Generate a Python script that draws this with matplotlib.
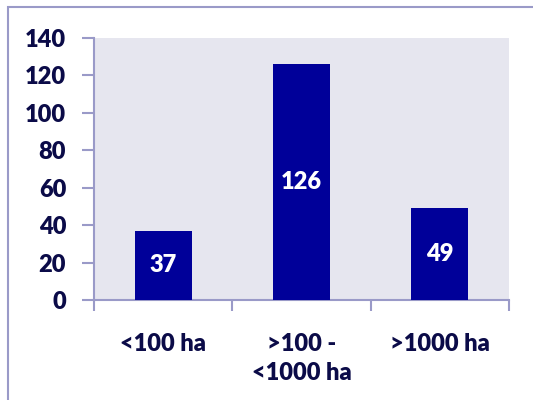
import matplotlib
matplotlib.use("Agg")
import matplotlib.pyplot as plt
from matplotlib.patches import Rectangle
import numpy as np

categories = ["<100 ha", ">100 -\n<1000 ha", ">1000 ha"]
values = [37, 126, 49]
y_ticks = [0, 20, 40, 60, 80, 100, 120, 140]

text_color = "#0b0b48"
bar_color = "#000099"
axis_color = "#9a9ac8"
panel_color = "#e6e6ef"

plt.rcParams["font.family"] = ["Lato", "DejaVu Sans"]
weight = "heavy"

W, H = 533, 400
fig = plt.figure(figsize=(W / 100, H / 100), dpi=100)
fig.patch.set_facecolor("white")

# outer chart frame
fig.patches.append(Rectangle((8 / W, -0.1), 1.2, 1 - 7 / H + 0.1,
                             transform=fig.transFigure, fill=False,
                             edgecolor=axis_color, linewidth=1.5))

ax = fig.add_axes([94 / W, 1 - 300 / H, (509 - 94) / W, (300 - 38) / H])
ax.set_facecolor(panel_color)

x = np.arange(len(categories))
bars = ax.bar(x, values, width=0.41, color=bar_color, zorder=3)

for xi, v in zip(x, values):
    ax.text(xi, v / 2, str(v), ha="center", va="center", color="white",
            fontsize=17, fontweight=weight, zorder=4)

ax.set_xlim(-0.5, len(categories) - 0.5)
ax.set_ylim(0, 140)
ax.set_yticks(y_ticks)
ax.set_yticklabels([str(t) for t in y_ticks])

ax.set_xticks(x)
ax.set_xticklabels(categories, linespacing=1.35)
ax.set_xticks(np.arange(len(categories) + 1) - 0.5, minor=True)

for side in ["top", "right"]:
    ax.spines[side].set_visible(False)
for side in ["left", "bottom"]:
    ax.spines[side].set_color(axis_color)
    ax.spines[side].set_linewidth(1.5)

ax.tick_params(axis="y", direction="out", length=9, width=1.5,
               color=axis_color, labelcolor=text_color, labelsize=17, pad=11)
ax.tick_params(axis="x", which="major", length=0, labelcolor=text_color,
               labelsize=17, pad=24)
ax.tick_params(axis="x", which="minor", direction="out", length=8,
               width=1.5, color=axis_color)

for lbl in ax.get_xticklabels() + ax.get_yticklabels():
    lbl.set_fontweight(weight)

fig.savefig("out.png", dpi=100)
